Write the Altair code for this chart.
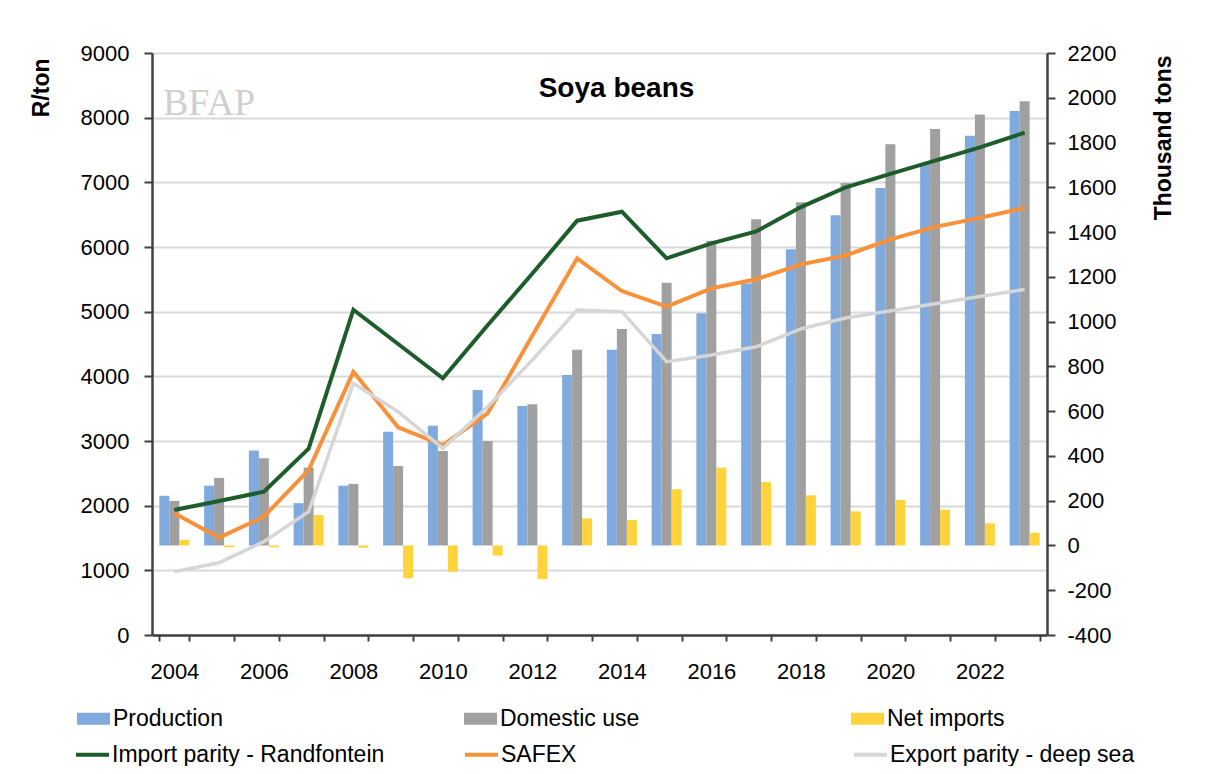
import altair as alt
import pandas as pd

# ---- data ----
years = list(range(2004, 2024))

production = [222, 267, 424, 189, 267, 508, 535, 695, 623, 762,
              874, 945, 1037, 1170, 1323, 1475, 1597, 1709, 1830, 1941]
domestic_use = [199, 302, 390, 348, 275, 355, 422, 467, 631, 874,
                967, 1174, 1361, 1457, 1533, 1619, 1792, 1861, 1925, 1984]
net_imports = [25, -8, -8, 136, -10, -147, -117, -45, -150, 121,
               114, 251, 348, 283, 224, 152, 203, 160, 99, 56]

import_parity = [1933, 2072, 2216, 2881, 5030, 4500, 3969, 4790, 5590, 6407,
                 6546, 5825, 6057, 6240, 6617, 6921, 7131, 7336, 7541, 7768]
safex = [1882, 1505, 1830, 2551, 4070, 3212, 2938, 3428, 4630, 5825,
         5319, 5077, 5361, 5500, 5731, 5869, 6118, 6312, 6450, 6605]
export_parity = [979, 1118, 1443, 1908, 3892, 3453, 2887, 3530, 4252, 5026,
                 5000, 4227, 4330, 4458, 4735, 4901, 5012, 5122, 5233, 5344]

bar_names = ["Production", "Domestic use", "Net imports"]
bar_colors = ["#80AADD", "#A0A0A0", "#FFD33C"]
line_names = ["Import parity - Randfontein", "SAFEX", "Export parity - deep sea"]
line_colors = ["#1D5C2B", "#F7923A", "#D6D6D6"]

title_text = "Soya beans"
left_title = "R/ton"
right_title = "Thousand tons"
watermark = ["BFAP"]

# ---- tables ----
bar_rows = []
for name, vals in zip(bar_names, [production, domestic_use, net_imports]):
    for y, v in zip(years, vals):
        bar_rows.append({"year": y, "series": name, "value": v})
bars_df = pd.DataFrame(bar_rows)

line_rows = []
for name, vals in zip(line_names, [import_parity, safex, export_parity]):
    for y, v in zip(years, vals):
        line_rows.append({"year": y, "series": name, "value": v})
lines_df = pd.DataFrame(line_rows)

FONT = "Liberation Sans"
AX = "#404040"

x_enc = alt.X(
    "year:O",
    scale=alt.Scale(paddingInner=0.33, paddingOuter=0.165),
    axis=alt.Axis(
        title=None, labelAngle=0, tickBand="extent", grid=False,
        labelExpr="toNumber(datum.value) % 2 == 0 ? datum.label : ''",
        labelFontSize=22, labelFont=FONT, labelColor="black", labelPadding=20,
        tickSize=6, tickColor=AX, tickWidth=2, domainColor=AX, domainWidth=2.5,
    ),
)

y_left = alt.Y(
    "value:Q",
    scale=alt.Scale(domain=[0, 9000], nice=False),
    axis=alt.Axis(
        orient="left", values=list(range(0, 9001, 1000)),
        labelExpr="'' + datum.value",
        grid=True, gridColor="#D9D9D9", gridWidth=2,
        title=left_title, titleAngle=270, titleAlign="right", titleBaseline="middle",
        titleX=-111, titleY=5, titleFontSize=23, titleFontWeight="bold",
        titleFont=FONT, titleColor="black",
        labelFontSize=22, labelFont=FONT, labelColor="black", labelPadding=15,
        tickSize=8, tickColor=AX, tickWidth=2, domainColor=AX, domainWidth=2.5,
    ),
)

y_right = alt.Y(
    "value:Q",
    scale=alt.Scale(domain=[-400, 2200], nice=False),
    axis=alt.Axis(
        orient="right", values=list(range(-400, 2201, 200)),
        labelExpr="'' + datum.value", grid=False,
        title=right_title, titleAngle=270, titleAlign="right", titleBaseline="middle",
        titleX=116, titleY=2, titleFontSize=23, titleFontWeight="bold",
        titleFont=FONT, titleColor="black",
        labelFontSize=22, labelFont=FONT, labelColor="black", labelPadding=12,
        tickSize=8, tickColor=AX, tickWidth=2, domainColor=AX, domainWidth=2.5,
    ),
)

bars = alt.Chart(bars_df).mark_bar().encode(
    x=x_enc,
    xOffset=alt.XOffset("series:N", sort=bar_names,
                        scale=alt.Scale(domain=bar_names, paddingInner=0, paddingOuter=0)),
    y=y_right,
    fill=alt.Fill(
        "series:N",
        scale=alt.Scale(domain=bar_names, range=bar_colors),
        legend=alt.Legend(
            orient="none", legendX=-75, legendY=649, direction="horizontal",
            columns=3, gridAlign="all", columnPadding=211, title=None,
            symbolType="M-1,-0.36H1V0.36H-1Z", symbolSize=1089, symbolStrokeWidth=0,
            symbolOpacity=1, labelFontSize=23, labelFont=FONT, labelColor="black",
            labelOffset=3, labelLimit=500,
        ),
    ),
)

line_layers = []
for i, name in enumerate(line_names):
    lyr = alt.Chart(lines_df).transform_filter(
        alt.datum.series == name
    ).mark_line(strokeWidth=4 if i < 2 else 3.5).encode(
        x=x_enc,
        y=y_left,
        stroke=alt.Stroke(
            "series:N",
            scale=alt.Scale(domain=line_names, range=line_colors),
            legend=alt.Legend(
                orient="none", legendX=-78, legendY=683, direction="horizontal",
                columns=3, gridAlign="all", columnPadding=72, title=None,
                symbolType="stroke", symbolSize=1089, symbolStrokeWidth=4,
                symbolOpacity=1, labelFontSize=23, labelFont=FONT, labelColor="black",
                labelOffset=1, labelLimit=500,
            ),
        ),
    )
    line_layers.append(lyr)

lines = alt.layer(*line_layers)

wm = alt.Chart(pd.DataFrame({"label": watermark})).mark_text(
    font="Liberation Serif", fontSize=38, color="#CFCFCF", align="left",
    baseline="alphabetic",
).encode(x=alt.value(11), y=alt.value(62), text="label:N")

chart = alt.layer(wm, bars, lines).resolve_scale(
    y="independent", fill="independent", stroke="independent"
).properties(
    width=895,
    height=582,
    title=alt.TitleParams(
        title_text, fontSize=28, fontWeight="bold", font=FONT, color="black",
        anchor="middle", frame="group", offset=-44, dx=17, dy=39, baseline="alphabetic",
    ),
    padding={"left": 144, "top": 45, "right": 160, "bottom": 131},
    autosize=alt.AutoSizeParams(type="none"),
).configure_view(stroke=None).configure(background="white")

chart.save("out.html", embed_options={"renderer": "svg", "actions": False})
